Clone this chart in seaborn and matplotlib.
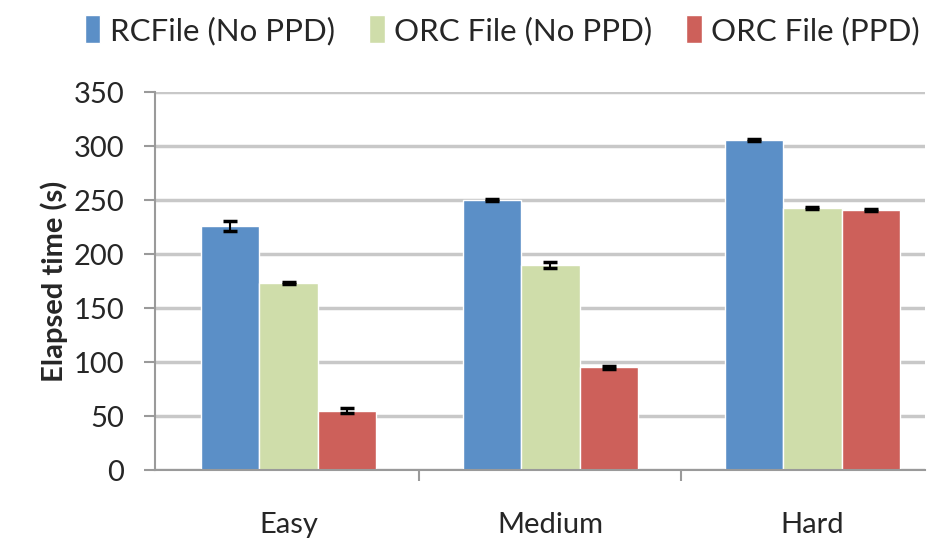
import pandas as pd
import matplotlib.pyplot as plt
import seaborn as sns

# Values
levels = ['Easy', 'Medium', 'Hard']
series = ['RCFile (No PPD)', 'ORC File (No PPD)', 'ORC File (PPD)']
rcfile = [226, 250, 306]
orc_noppd = [173, 190, 243]
orc_ppd = [55, 95, 241]
rcfile_err = [5, 1, 1]
orc_noppd_err = [1, 3, 1]
orc_ppd_err = [2, 1, 1]
colors = ['#5B8FC7', '#CFDDAA', '#CD605A']

rows = []
for name, vals, errs in zip(series, [rcfile, orc_noppd, orc_ppd],
                            [rcfile_err, orc_noppd_err, orc_ppd_err]):
    for lvl, v, e in zip(levels, vals, errs):
        rows.append({'level': lvl, 'series': name, 'time': v, 'err': e})
df = pd.DataFrame(rows)

sns.set_style('white')
plt.rcParams['font.family'] = ['Lato', 'DejaVu Sans']

fig = plt.figure(figsize=(9.39, 5.39), dpi=100)
ax = fig.add_axes([0.165, 0.128, 0.82, 0.701])

sns.barplot(data=df, x='level', y='time', hue='series', palette=colors,
            errorbar=None, width=0.67, saturation=1, ax=ax)

# error bars at bar centres
for cont, name in zip(ax.containers, series):
    sub = df[df['series'] == name]
    xs = [b.get_x() + b.get_width() / 2 for b in cont]
    ax.errorbar(xs, sub['time'], yerr=sub['err'], fmt='none', ecolor='black',
                elinewidth=1.5, capsize=5, capthick=2.5, zorder=4)

ax.set_ylim(0, 350)
ax.set_yticks(range(0, 351, 50))
ax.set_xlim(-0.51, 2.43)
ax.yaxis.grid(True, color='#C8C8C8', linewidth=2.5)
ax.set_axisbelow(True)

for s in ['top', 'right']:
    ax.spines[s].set_visible(False)
for s in ['left', 'bottom']:
    ax.spines[s].set_color('#9A9A9A')
    ax.spines[s].set_linewidth(1.5)

ax.tick_params(axis='y', length=8, width=1.5, color='#9A9A9A', labelsize=21, pad=14, left=True)
ax.tick_params(axis='x', length=0, labelsize=21, pad=30)
ax.set_xticks([0.5, 1.5], minor=True)
ax.tick_params(axis='x', which='minor', length=8, width=1.5, color='#9A9A9A', bottom=True)

ax.set_xlabel('')
ax.set_ylabel('Elapsed time (s)', fontsize=21, fontweight='bold', labelpad=4)

handles, labels = ax.get_legend_handles_labels()
ax.get_legend().remove()
fig.legend(handles, labels, loc='center', bbox_to_anchor=(0.535, 0.944), ncol=3,
           frameon=False, fontsize=22.5, handlelength=0.5, handleheight=1.0,
           handletextpad=0.3, columnspacing=1.1, borderaxespad=0)

fig.savefig('out.png', dpi=100)
